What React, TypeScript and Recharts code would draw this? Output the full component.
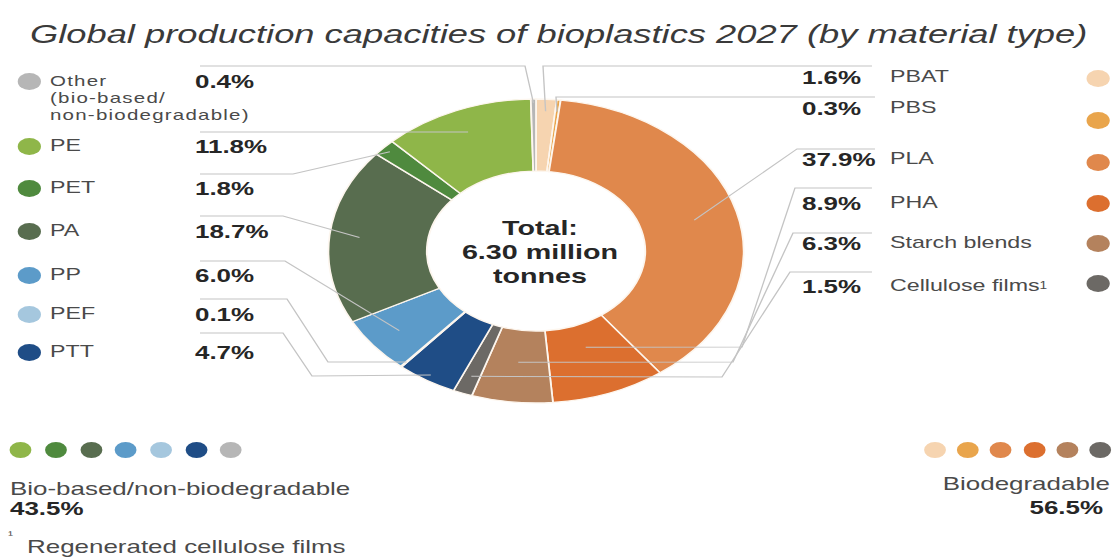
import React from 'react';
import { PieChart, Pie, Cell } from 'recharts';

// clockwise from 12 o'clock
const materials = ['PBAT', 'PBS', 'PLA', 'PHA', 'Starch blends', 'Cellulose films', 'PTT', 'PEF', 'PP', 'PA', 'PET', 'PE', 'Other'];
const shares = [1.6, 0.3, 37.9, 8.9, 6.3, 1.5, 4.7, 0.1, 6.0, 18.7, 1.8, 11.8, 0.4];

const nonBioOrder = ['PE', 'PET', 'PA', 'PP', 'PEF', 'PTT', 'Other'];
const bioOrder = ['PBAT', 'PBS', 'PLA', 'PHA', 'Starch blends', 'Cellulose films'];
const groupLabels = ['Bio-based/non-biodegradable', 'Biodegradable'];
const groupShares = [43.5, 56.5];

const title = 'Global production capacities of bioplastics 2027 (by material type)';
const otherLines = ['Other', '(bio-based/', 'non-biodegradable)'];
const totalLines = ['Total:', '6.30 million', 'tonnes'];
const footnote = 'Regenerated cellulose films';

const colors: Record<string, string> = {
  PBAT: '#f6d4b0',
  PBS: '#e9a54c',
  PLA: '#e0884c',
  PHA: '#dc6f2f',
  'Starch blends': '#b4825d',
  'Cellulose films': '#6c6965',
  PTT: '#1f4d86',
  PEF: '#a5c7de',
  PP: '#5c9bc9',
  PA: '#586d4f',
  PET: '#4f8a3e',
  PE: '#8fb649',
  Other: '#b6b6b6',
};

// the reference is stretched horizontally; draw in narrow space and scale
const SX = 1.365;
const W0 = 1117 / SX;
const H = 558;

// screen positions of the legend rows
const leftRows: Record<string, number> = { Other: 81, PE: 146, PET: 188, PA: 231, PP: 275, PEF: 314, PTT: 352 };
const rightRows: Record<string, { y: number; dot: number }> = {
  PBAT: { y: 77, dot: 78 },
  PBS: { y: 108, dot: 120 },
  PLA: { y: 159, dot: 162 },
  PHA: { y: 203, dot: 203 },
  'Starch blends': { y: 243, dot: 243 },
  'Cellulose films': { y: 286, dot: 283 },
};

// leader lines: row line, elbow, optional knee, anchor radius inside the ring
const leaders: Record<string, { y: number; from: number; elbow: number; knee?: [number, number]; r: number }> = {
  Other: { y: 66, from: 200, elbow: 525, r: 148 },
  PE: { y: 132, from: 200, elbow: 300, r: 129 },
  PET: { y: 174, from: 200, elbow: 293, r: 146 },
  PA: { y: 216, from: 200, elbow: 283, r: 130 },
  PP: { y: 261, from: 200, elbow: 285, r: 128 },
  PEF: { y: 299, from: 200, elbow: 287, knee: [328, 362], r: 146 },
  PTT: { y: 333, from: 200, elbow: 283, knee: [312, 376], r: 146 },
  PBAT: { y: 66, from: 872, elbow: 543, r: 140 },
  PBS: { y: 97, from: 875, elbow: 556, r: 140 },
  PLA: { y: 149, from: 875, elbow: 797, r: 120 },
  PHA: { y: 188, from: 872, elbow: 795, knee: [742, 347], r: 103 },
  'Starch blends': { y: 233, from: 872, elbow: 793, knee: [733, 362], r: 112 },
  'Cellulose films': { y: 272, from: 872, elbow: 790, knee: [722, 377], r: 134 },
};

const pieData = materials.map((m, i) => ({ name: m, value: shares[i] }));
const shareOf = (m: string) => shares[materials.indexOf(m)];
const pct = (v: number) => `${v.toFixed(1)}%`;

const RAD = Math.PI / 180;
const FONT = '"Liberation Sans", Arial, Helvetica, sans-serif';

const renderLeader = (props: any) => {
  const { cx, cy, midAngle } = props;
  const name = props.payload?.name ?? props.name;
  const l = leaders[name];
  if (!l) return null;
  const ax = cx + Math.cos(-midAngle * RAD) * l.r;
  const ay = cy + Math.sin(-midAngle * RAD) * l.r;
  const pts: number[][] = [[l.from / SX, l.y], [l.elbow / SX, l.y]];
  if (l.knee) pts.push([l.knee[0] / SX, l.knee[1]]);
  pts.push([ax, ay]);
  return (
    <polyline
      key={name}
      points={pts.map((p) => p.join(',')).join(' ')}
      fill="none"
      stroke="#c4c4c4"
      strokeWidth={1}
      vectorEffect="non-scaling-stroke"
    />
  );
};

interface TxtProps {
  x: number;
  y: number; // centre of the first line
  size?: number;
  lh?: number;
  bold?: boolean;
  italic?: boolean;
  color?: string;
  spacing?: number;
  align?: 'left' | 'right' | 'center';
  children: React.ReactNode;
}

const Txt = ({ x, y, size = 17, lh, bold, italic, color = '#4a4a4a', spacing, align = 'left', children }: TxtProps) => {
  const lineH = lh ?? Math.round(size * 1.2);
  const style: React.CSSProperties = {
    position: 'absolute',
    top: y - lineH / 2,
    lineHeight: `${lineH}px`,
    fontSize: size,
    fontWeight: bold ? 700 : 400,
    fontStyle: italic ? 'italic' : 'normal',
    letterSpacing: spacing,
    color,
    whiteSpace: 'nowrap',
    textAlign: align,
  };
  if (align === 'right') style.right = W0 - x / SX;
  else if (align === 'center') {
    style.left = x / SX;
    style.transform = 'translateX(-50%)';
  } else style.left = x / SX;
  return <div style={style}>{children}</div>;
};

const Lines = ({ items }: { items: string[] }) => (
  <>
    {items.map((t, i) => (
      <React.Fragment key={t}>
        {i > 0 ? <br /> : null}
        {t}
      </React.Fragment>
    ))}
  </>
);

const Dot = ({ x, y, color, d = 17 }: { x: number; y: number; color: string; d?: number }) => (
  <div
    style={{
      position: 'absolute',
      left: x / SX - d / 2,
      top: y - d / 2,
      width: d,
      height: d,
      borderRadius: '50%',
      background: color,
    }}
  />
);

export default function App() {
  return (
    <div
      style={{
        position: 'absolute',
        left: 0,
        top: 0,
        width: W0,
        height: H,
        background: '#fff',
        fontFamily: FONT,
        transform: `scaleX(${SX})`,
        transformOrigin: '0 0',
      }}
    >
      <div style={{ position: 'absolute', left: 0, top: 0 }}>
        <PieChart width={W0} height={H} margin={{ top: 0, right: 0, bottom: 0, left: 0 }}>
          <Pie
            data={pieData}
            dataKey="value"
            nameKey="name"
            cx={536 / SX}
            cy={251}
            innerRadius={80}
            outerRadius={152}
            startAngle={90}
            endAngle={-270}
            stroke="#fdf6ee"
            strokeWidth={1.3}
            label={renderLeader}
            labelLine={false}
            isAnimationActive={false}
          >
            {pieData.map((d) => (
              <Cell key={d.name} fill={colors[d.name]} />
            ))}
          </Pie>
        </PieChart>
      </div>

      <Txt x={30} y={34} size={26.6} italic color="#3a3a3a">
        {title}
      </Txt>

      {/* left legend */}
      {nonBioOrder.map((m) => (
        <React.Fragment key={m}>
          <Dot x={30} y={leftRows[m]} color={colors[m]} />
          <Txt x={195} y={leftRows[m]} size={19} bold color="#262626">
            {pct(shareOf(m))}
          </Txt>
          {m === 'Other' ? (
            <Txt x={50} y={80} size={15} lh={17} spacing={0.9}>
              <Lines items={otherLines} />
            </Txt>
          ) : (
            <Txt x={50} y={leftRows[m]}>{m}</Txt>
          )}
        </React.Fragment>
      ))}

      {/* right legend */}
      {bioOrder.map((m) => (
        <React.Fragment key={m}>
          <Txt x={802} y={rightRows[m].y} size={19} bold color="#262626">
            {pct(shareOf(m))}
          </Txt>
          <Txt x={890} y={rightRows[m].y}>
            {m}
            {m === 'Cellulose films' ? <span style={{ fontSize: 10, verticalAlign: 'top' }}>1</span> : null}
          </Txt>
          <Dot x={1098} y={rightRows[m].dot} color={colors[m]} />
        </React.Fragment>
      ))}

      {/* centre */}
      <Txt x={540} y={228} size={21} lh={24} bold color="#262626" align="center">
        <Lines items={totalLines} />
      </Txt>

      {/* group summaries */}
      {nonBioOrder.map((m, i) => (
        <Dot key={m} x={21 + i * 35} y={450} color={colors[m]} d={16} />
      ))}
      <Txt x={10} y={488} size={19}>{groupLabels[0]}</Txt>
      <Txt x={10} y={508} size={19} bold color="#262626">{pct(groupShares[0])}</Txt>

      {bioOrder.map((m, i) => (
        <Dot key={m} x={935 + i * 33} y={450} color={colors[m]} d={16} />
      ))}
      <Txt x={1110} y={483} size={19} align="right">{groupLabels[1]}</Txt>
      <Txt x={1103} y={507} size={19} bold color="#262626" align="right">{pct(groupShares[1])}</Txt>

      <Txt x={8} y={535} size={11} lh={12}>¹</Txt>
      <Txt x={27} y={547} size={19} lh={20}>{footnote}</Txt>
    </div>
  );
}
